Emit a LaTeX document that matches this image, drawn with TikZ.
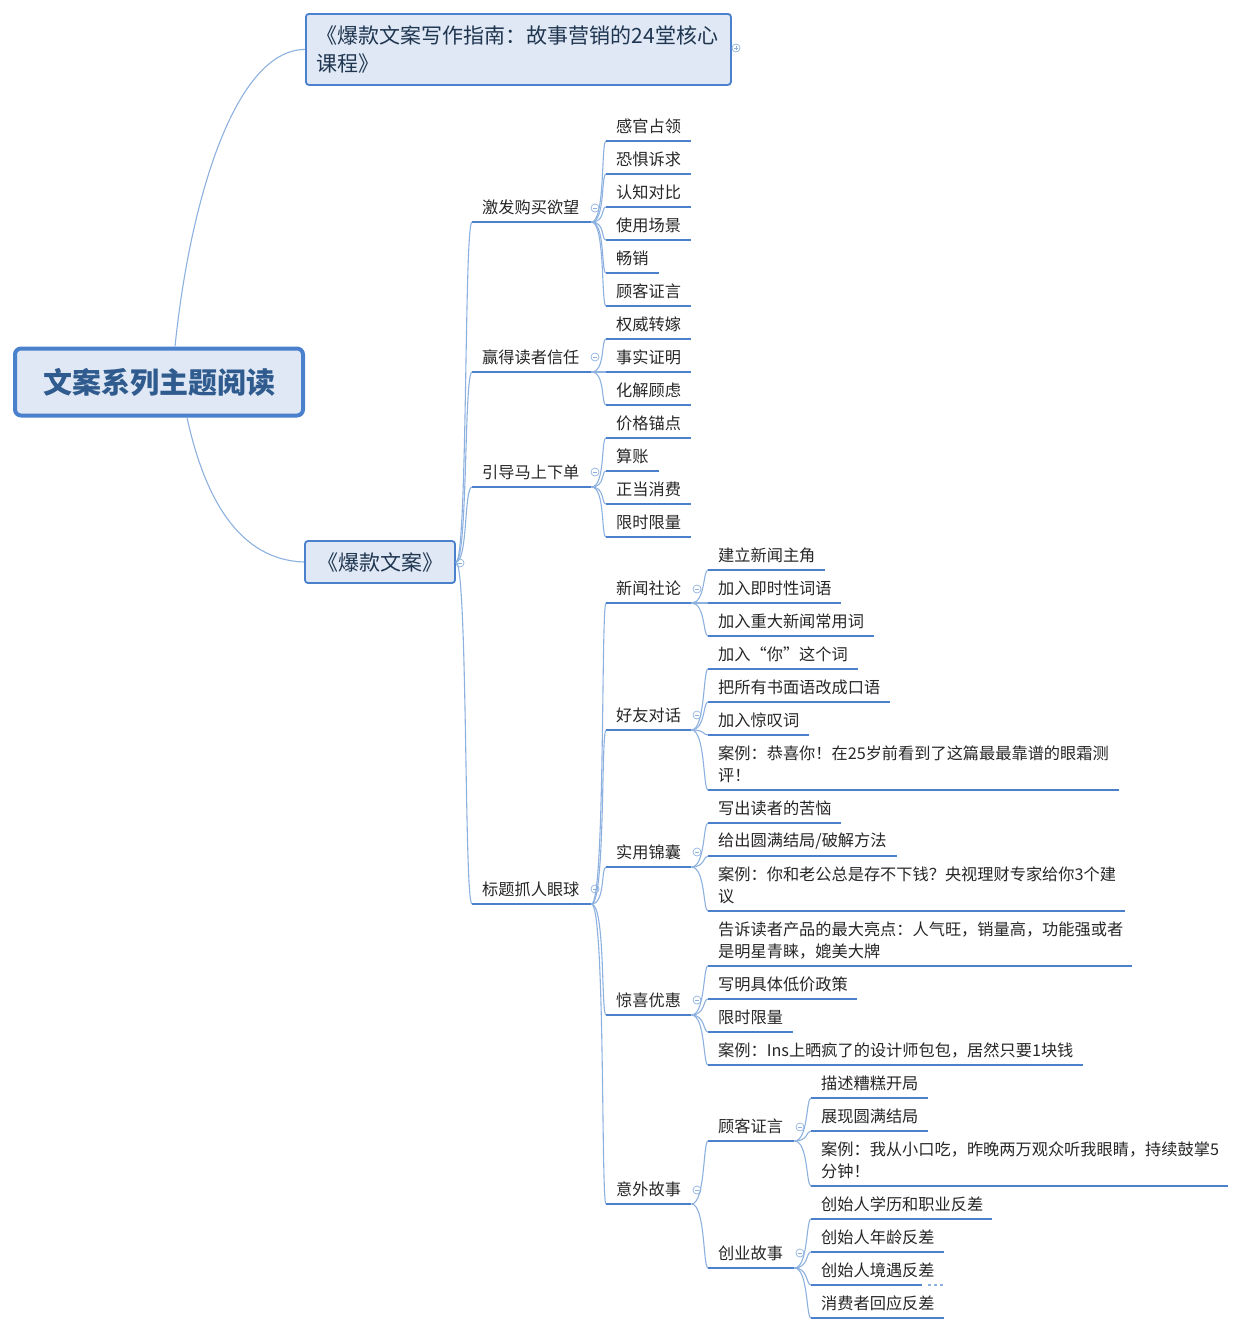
\documentclass[tikz,border=0pt]{standalone}
\usepackage{fontspec}
\setmainfont{Noto Sans CJK SC}
\definecolor{topicblue}{HTML}{4A80CC}
\definecolor{branchblue}{HTML}{8DB1DF}
\definecolor{boxfill}{HTML}{DFE8F4}
\definecolor{roottext}{HTML}{2F5B8E}
\definecolor{booktext}{HTML}{1F3550}
\tikzset{
  topic/.style={anchor=south west,inner xsep=10pt,inner ysep=6.5pt,align=left,text=black!85,font=\fontsize{16.2}{22}\selectfont,execute at end node={\rule[-2pt]{0pt}{2pt}}},
  topicline/.style={topicblue,line width=2.4pt},
  branch/.style={branchblue,line width=1.1pt},
  bookbox/.style={draw=topicblue,fill=boxfill,line width=1.8pt,rounded corners=3pt,inner sep=0pt,text=booktext,font=\fontsize{21}{28}\selectfont},
  rootbox/.style={draw=topicblue,fill=boxfill,line width=4pt,rounded corners=6pt,inner sep=0pt,text=roottext,font=\fontsize{29}{34}\selectfont\bfseries},
  fold/.style={circle,draw=branchblue,line width=.7pt,inner sep=0pt,minimum size=8pt},
  foldminus/.style={fold,path picture={\draw[branchblue,line width=.7pt] ([xshift=2pt]path picture bounding box.west)--([xshift=-2pt]path picture bounding box.east);}},
  foldplus/.style={fold,path picture={\draw[branchblue,line width=.7pt] ([xshift=2pt]path picture bounding box.west)--([xshift=-2pt]path picture bounding box.east);\draw[branchblue,line width=.7pt] ([yshift=2pt]path picture bounding box.south)--([yshift=-2pt]path picture bounding box.north);}}
}
\begin{document}
\begin{tikzpicture}[x=1pt,y=-1pt]
\useasboundingbox (0,0) rectangle (1242,1331);

\node[rootbox,minimum width=288pt,minimum height=67pt] (root) at (159,382) {文案系列主题阅读};
\node[bookbox,anchor=north west,minimum width=425pt,minimum height=71pt,text width=403pt,inner xsep=11pt,align=left] (guide) at (305,13) {《爆款文案写作指南：故事营销的24堂核心\\课程》};
\node[bookbox,minimum width=150pt,minimum height=42pt,text depth=0pt] (book) at (380,562) {《爆款文案》};

\draw[branch] ([xshift=16pt]root.north) .. controls (190,200) and (235,50) .. (guide.west);
\draw[branch] ([xshift=28pt]root.south) .. controls (205,500) and (240,560) .. (book.west);

% nodes: name/parent/left/line/right/text
\foreach \nm/\up/\xl/\yl/\xr/\txt in {
  desire/book/472/222/591/激发购买欲望,
  trust/book/472/372/591/赢得读者信任,
  order/book/472/487/591/引导马上下单,
  title/book/472/904/591/标题抓人眼球,
  sense/desire/606/141/691/感官占领,
  fear/desire/606/174/691/恐惧诉求,
  contrast/desire/606/207/691/认知对比,
  scene/desire/606/240/691/使用场景,
  seller/desire/606/273/659/畅销,
  witness/desire/606/306/691/顾客证言,
  expert/trust/606/339/691/权威转嫁,
  fact/trust/606/372/691/事实证明,
  worry/trust/606/405/691/化解顾虑,
  anchorprice/order/606/438/691/价格锚点,
  account/order/606/471/659/算账,
  justify/order/606/504/691/正当消费,
  limit/order/606/537/691/限时限量,
  news/title/606/603/691/新闻社论,
  friend/title/606/730/691/好友对话,
  useful/title/606/867/691/实用锦囊,
  surprise/title/606/1015/691/惊喜优惠,
  accident/title/606/1204/691/意外故事,
  hero/news/708/570/825/建立新闻主角,
  instant/news/708/603/841/加入即时性词语,
  major/news/708/636/874/加入重大新闻常用词,
  you/friend/708/669/858/加入“你”这个词,
  spoken/friend/708/702/890/把所有书面语改成口语,
  wow/friend/708/735/809/加入惊叹词,
  casea/friend/708/790/1119/{案例：恭喜你！在25岁前看到了这篇最最靠谱的眼霜测\\评！},
  pain/useful/708/823/841/写出读者的苦恼,
  solve/useful/708/856/897/{给出圆满结局/破解方法},
  caseb/useful/708/911/1125/{案例：你和老公总是存不下钱？央视理财专家给你3个建\\议},
  best/surprise/708/966/1132/{告诉读者产品的最大亮点：人气旺，销量高，功能强或者\\是明星青睐，媲美大牌},
  policy/surprise/708/999/857/写明具体低价政策,
  limitb/surprise/708/1032/793/限时限量,
  casec/surprise/708/1065/1083/{案例：Ins上晒疯了的设计师包包，居然只要1块钱},
  customer/accident/708/1141/794/顾客证言,
  founder/accident/708/1268/794/创业故事,
  bad/customer/811/1098/928/描述糟糕开局,
  good/customer/811/1131/928/展现圆满结局,
  cased/customer/811/1186/1228/{案例：我从小口吃，昨晚两万观众听我眼睛，持续鼓掌5\\分钟！},
  school/founder/811/1219/992/创始人学历和职业反差,
  age/founder/811/1252/944/创始人年龄反差,
  fate/founder/811/1285/944/创始人境遇反差,
  reply/founder/811/1318/944/消费者回应反差}
{
    \pgfmathsetmacro{\txtw}{\xr-\xl-20}
    \node[topic,text width=\txtw pt] (\nm) at (\xl,\yl) {\txt};
    \ifnum\xl=472
        \draw[branch] (\up.east) .. controls +(12,0) and +(-8,0) .. (\nm.south west);
    \else
        \draw[branch] (\up.south east) .. controls +(14,0) and +(-5,0) .. (\nm.south west);
    \fi
    \draw[topicline] (\nm.south west) -- (\nm.south east);
}
% broken end of the line under fate
\fill[white] (922,1283) rectangle (945,1287.5);
\draw[branch,dashed] (928,1285) -- (944,1285);

\node[foldplus] (foldguide) at (736,48) {};
\foreach \nm/\x/\y in {book/460/563,desire/595/208,trust/595/357,order/595/472,title/595/889,news/697/589,friend/697/715,useful/697/852,surprise/697/1000,accident/697/1190,customer/800/1127,founder/800/1253}
{
    \node[foldminus] (fold\nm) at (\x,\y) {};
}
\end{tikzpicture}
\end{document}
